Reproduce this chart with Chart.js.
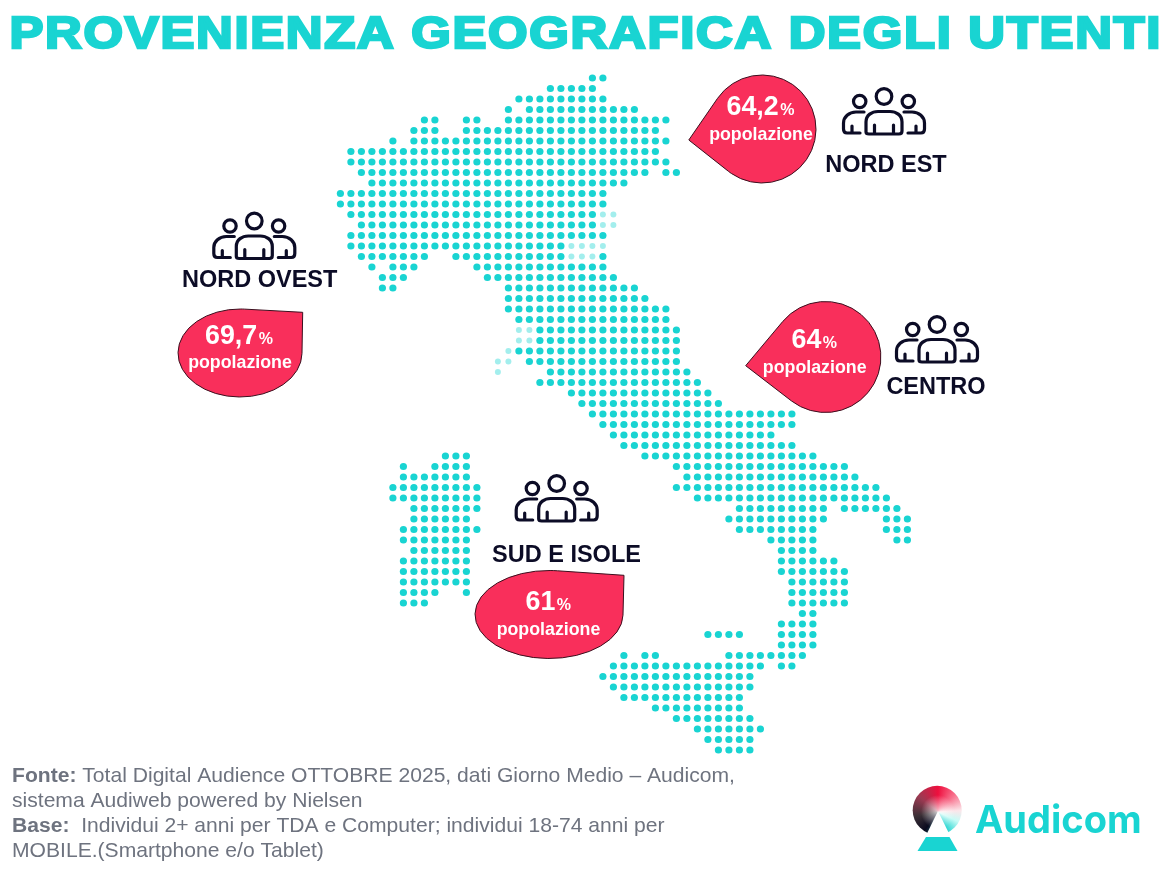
<!DOCTYPE html>
<html lang="it">
<head>
<meta charset="utf-8">
<title>Provenienza geografica degli utenti</title>
<script src="https://cdn.jsdelivr.net/npm/chart.js@4"></script>
<style>
    html, body { margin: 0; padding: 0; background: #ffffff; }
    canvas { display: block; }
</style>
</head>
<body>
<canvas id="grafico" width="1174" height="872"></canvas>
<script>
// dati
const titolo = 'PROVENIENZA GEOGRAFICA DEGLI UTENTI';
const aree = ['NORD OVEST', 'NORD EST', 'CENTRO', 'SUD E ISOLE'];
const percentuali = [69.7, 64.2, 64, 61];
const unita = 'popolazione';
const marchio = 'Audicom';

// mappa a punti: ogni riga elenca le tratte [da, a, da, a...] di colonne piene
const righeItalia = [
    [24,25], [20,24], [17,25], [16,16,18,28], [8,9,12,13,16,31],
    [7,9,12,30], [5,5,7,31], [1,30], [1,31], [2,29,31,32],
    [3,27], [0,25], [0,25], [1,24], [2,24],
    [1,25], [1,21], [2,8,11,21,25,25], [3,3,5,7,13,25], [4,6,14,26],
    [4,5,16,28], [16,29], [16,31], [17,31], [19,32],
    [19,32], [17,32], [18,32], [20,33], [19,34],
    [22,35], [23,36], [24,43], [25,43], [26,41],
    [27,43], [29,45], [32,48], [33,49], [32,51],
    [34,52], [38,46,48,53], [37,46,52,54], [38,45,52,54], [41,45,53,54],
    [42,45], [42,47], [42,48], [43,48], [43,48],
    [43,48], [44,45], [42,45], [35,38,42,45], [42,45],
    [27,27,29,30,37,44], [26,40,42,43], [25,39], [26,39], [27,38],
    [30,38], [32,39], [34,40], [35,39], [36,39]
];
const primaRigaSardegna = 36;
const righeSardegna = [
    [10,12], [6,6,9,12], [6,12], [5,13], [5,13],
    [7,13], [7,12], [6,13], [6,12], [7,12],
    [6,12], [6,12], [6,12], [6,9,12,12], [6,8]
];
// punti mezzi coperti nell'originale [colonna, riga]
const puntiCoperti = [
    [25,13], [26,13], [25,14], [26,14], [22,16], [23,16], [24,16], [25,16],
    [22,17], [23,17], [24,17], [17,24], [18,24], [17,25], [18,25], [16,26],
    [15,27], [16,27], [15,28]
];
const noteFonte = [
    [['Fonte: ', true], ['Total Digital Audience OTTOBRE 2025, dati Giorno Medio – Audicom,', false]],
    [['sistema Audiweb powered by Nielsen', false]],
    [['Base: ', true], [' Individui 2+ anni per TDA e Computer; individui 18-74 anni per', false]],
    [['MOBILE.(Smartphone e/o Tablet)', false]]
];

// colori
const TEAL = '#19d4d2';
const ROSA = '#f92f5b';
const BLU = '#0c0c26';
const GRIGIO = '#6e737f';

// griglia sui pixel della pagina
const PASSO = 10.5, X0 = 340.4, Y0 = 78, LARGH = 1174, ALT = 872;

function espandi(righe, primaRiga) {
    const punti = [];
    righe.forEach((tratte, i) => {
        for (let k = 0; k < tratte.length; k += 2) {
            for (let c = tratte[k]; c <= tratte[k + 1]; c++) punti.push({ x: c, y: primaRiga + i });
        }
    });
    return punti;
}

// posizione di ogni riquadro: goccia (centro, raggi, punta), icona, etichetta, testi
const riquadri = [
    { cx: 240, cy: 353, rx: 62, ry: 44, px: 302.7, py: 312.3,
      icona: [254.3, 212.5], etic: [259.7, 287], num: [205, 343.5], pop: [240, 368] },
    { cx: 762, cy: 129, rx: 54, ry: 54, px: 688.8, py: 140,
      icona: [884, 88], etic: [886, 171.7], num: [726.5, 114.5], pop: [761, 140] },
    { cx: 825.4, cy: 357, rx: 55.5, ry: 55.5, px: 745.7, py: 365.7,
      icona: [937, 316], etic: [936, 394], num: [791.5, 348], pop: [814.7, 373.3] },
    { cx: 549, cy: 614.5, rx: 74, ry: 44, px: 624, py: 575.3,
      icona: [556.7, 475], etic: [566.5, 561.7], num: [525.5, 610], pop: [548.5, 635] }
];

function disegnaGoccia(ctx, r) {
    const u = (r.px - r.cx) / r.rx, v = (r.py - r.cy) / r.ry;
    const a = Math.atan2(v, u), d = Math.acos(1 / Math.hypot(u, v));
    ctx.beginPath();
    ctx.moveTo(r.px, r.py);
    ctx.ellipse(r.cx, r.cy, r.rx, r.ry, 0, a + d, a - d + Math.PI * 2);
    ctx.closePath();
    ctx.fillStyle = ROSA;
    ctx.fill();
    ctx.strokeStyle = '#3a0f1e';
    ctx.lineWidth = 1;
    ctx.stroke();
}

function disegnaIcona(ctx, cx, y) {
    ctx.save();
    ctx.translate(cx, y);
    ctx.strokeStyle = BLU;
    ctx.lineWidth = 3.2;
    ctx.lineCap = 'round';
    ctx.lineJoin = 'round';
    // teste
    [[0, 8.5, 7.8], [-24.3, 13.5, 6.2], [24.3, 13.5, 6.2]].forEach(t => {
        ctx.beginPath();
        ctx.arc(t[0], t[1], t[2], 0, Math.PI * 2);
        ctx.stroke();
    });
    // corpo centrale
    ctx.beginPath();
    ctx.moveTo(-18, 44);
    ctx.bezierCurveTo(-18, 46, -16, 46, -15, 46);
    ctx.lineTo(15, 46);
    ctx.bezierCurveTo(17, 46, 18, 45, 18, 43);
    ctx.lineTo(18, 34);
    ctx.bezierCurveTo(18, 27, 12, 23.5, 6, 23.5);
    ctx.lineTo(-6, 23.5);
    ctx.bezierCurveTo(-12, 23.5, -18, 27, -18, 34);
    ctx.closePath();
    ctx.moveTo(-9.5, 37);
    ctx.lineTo(-9.5, 46);
    ctx.moveTo(9.5, 37);
    ctx.lineTo(9.5, 46);
    ctx.stroke();
    // spalle ai lati
    [-1, 1].forEach(s => {
        ctx.beginPath();
        ctx.moveTo(s * 20, 24);
        ctx.lineTo(s * 28, 24);
        ctx.bezierCurveTo(s * 35, 24, s * 40.5, 29, s * 40.5, 35);
        ctx.lineTo(s * 40.5, 41);
        ctx.bezierCurveTo(s * 40.5, 43.5, s * 39, 45, s * 37, 45);
        ctx.lineTo(s * 24, 45);
        ctx.moveTo(s * 32, 38);
        ctx.lineTo(s * 32, 45);
        ctx.stroke();
    });
    ctx.restore();
}

function disegnaMarchio(ctx) {
    const cx = 937.2, cy = 810.3;
    const sfum = ctx.createConicGradient(-Math.PI / 2, 938, 812);
    sfum.addColorStop(0, '#ee0f3e');
    sfum.addColorStop(0.12, '#f8708c');
    sfum.addColorStop(0.24, '#fbe6ea');
    sfum.addColorStop(0.32, '#c8fbf6');
    sfum.addColorStop(0.42, '#33d8d4');
    sfum.addColorStop(0.6, '#0a0a1e');
    sfum.addColorStop(0.72, '#3b3036');
    sfum.addColorStop(0.86, '#9c3a52');
    sfum.addColorStop(1, '#ee0f3e');
    ctx.beginPath();
    ctx.arc(cx, cy, 24.5, 0, Math.PI * 2);
    ctx.fillStyle = sfum;
    ctx.fill();
    // velo chiaro al centro, come nel logo
    const velo = ctx.createRadialGradient(938, 812, 0, 938, 812, 17);
    velo.addColorStop(0, 'rgba(255,255,255,0.75)');
    velo.addColorStop(1, 'rgba(255,255,255,0)');
    ctx.fillStyle = velo;
    ctx.fill();
    ctx.beginPath();
    ctx.moveTo(938, 811);
    ctx.lineTo(950, 835.5);
    ctx.lineTo(926, 835.5);
    ctx.closePath();
    ctx.fillStyle = '#ffffff';
    ctx.fill();
    ctx.beginPath();
    ctx.moveTo(926, 837);
    ctx.lineTo(949.5, 837);
    ctx.lineTo(957.5, 851);
    ctx.lineTo(917.5, 851);
    ctx.closePath();
    ctx.fillStyle = TEAL;
    ctx.fill();
    ctx.font = '700 38px Inter, "Liberation Sans"';
    ctx.fillStyle = TEAL;
    ctx.textAlign = 'left';
    ctx.letterSpacing = '0px';
    ctx.fillText(marchio, 975, 833.3);
}

// tutto cio che sta fuori dai punti: titolo, gocce, icone, note
const annotazioni = {
    id: 'annotazioni',
    afterDraw(chart) {
        const ctx = chart.ctx;
        ctx.save();
        ctx.textBaseline = 'alphabetic';

        // titolo
        ctx.save();
        ctx.translate(9.5, 48);
        ctx.scale(1.13, 1);
        ctx.font = 'bold 45px "Liberation Sans"';
        ctx.letterSpacing = '1.5px';
        ctx.fillStyle = TEAL;
        ctx.strokeStyle = TEAL;
        ctx.lineWidth = 2.5;
        ctx.lineJoin = 'miter';
        ctx.fillText(titolo, 0, 0);
        ctx.strokeText(titolo, 0, 0);
        ctx.restore();

        riquadri.forEach((r, i) => {
            disegnaGoccia(ctx, r);
            disegnaIcona(ctx, r.icona[0], r.icona[1]);

            ctx.fillStyle = BLU;
            ctx.textAlign = 'center';
            ctx.font = 'bold 23.5px "Liberation Sans"';
            ctx.fillText(aree[i], r.etic[0], r.etic[1]);

            const numero = String(percentuali[i]).replace('.', ',');
            ctx.fillStyle = '#ffffff';
            ctx.textAlign = 'left';
            ctx.font = 'bold 26.8px "Liberation Sans"';
            ctx.fillText(numero, r.num[0], r.num[1]);
            const w = ctx.measureText(numero).width;
            ctx.font = 'bold 16px "Liberation Sans"';
            ctx.fillText('%', r.num[0] + w + 1.5, r.num[1]);

            ctx.textAlign = 'center';
            ctx.font = 'bold 17.8px "Liberation Sans"';
            ctx.fillText(unita, r.pop[0], r.pop[1]);
        });

        // note in basso
        ctx.fillStyle = GRIGIO;
        ctx.textAlign = 'left';
        noteFonte.forEach((riga, i) => {
            let x = 12;
            const y = 781.7 + i * 25.2;
            riga.forEach(([testo, grassetto]) => {
                ctx.font = (grassetto ? 'bold ' : '') + '21.1px "Liberation Sans"';
                ctx.fillText(testo, x, y);
                x += ctx.measureText(testo).width;
            });
        });

        disegnaMarchio(ctx);
        ctx.restore();
    }
};

new Chart(document.getElementById('grafico'), {
    type: 'scatter',
    data: {
        datasets: [
            { label: 'Italia', data: espandi(righeItalia, 0), backgroundColor: TEAL, pointRadius: 3.6, borderWidth: 0 },
            { label: 'Sardegna', data: espandi(righeSardegna, primaRigaSardegna), backgroundColor: TEAL, pointRadius: 3.6, borderWidth: 0 },
            { label: 'Coperti', data: puntiCoperti.map(p => ({ x: p[0], y: p[1] })), backgroundColor: 'rgba(25, 212, 210, 0.4)', pointRadius: 3, borderWidth: 0 }
        ]
    },
    options: {
        responsive: false,
        animation: false,
        layout: { padding: 0, autoPadding: false },
        plugins: { legend: { display: false }, title: { display: false }, tooltip: { enabled: false } },
        scales: {
            x: { type: 'linear', display: false, min: -X0 / PASSO, max: (LARGH - X0) / PASSO },
            y: { type: 'linear', display: false, reverse: true, min: -Y0 / PASSO, max: (ALT - Y0) / PASSO }
        }
    },
    plugins: [annotazioni]
});
</script>
</body>
</html>
